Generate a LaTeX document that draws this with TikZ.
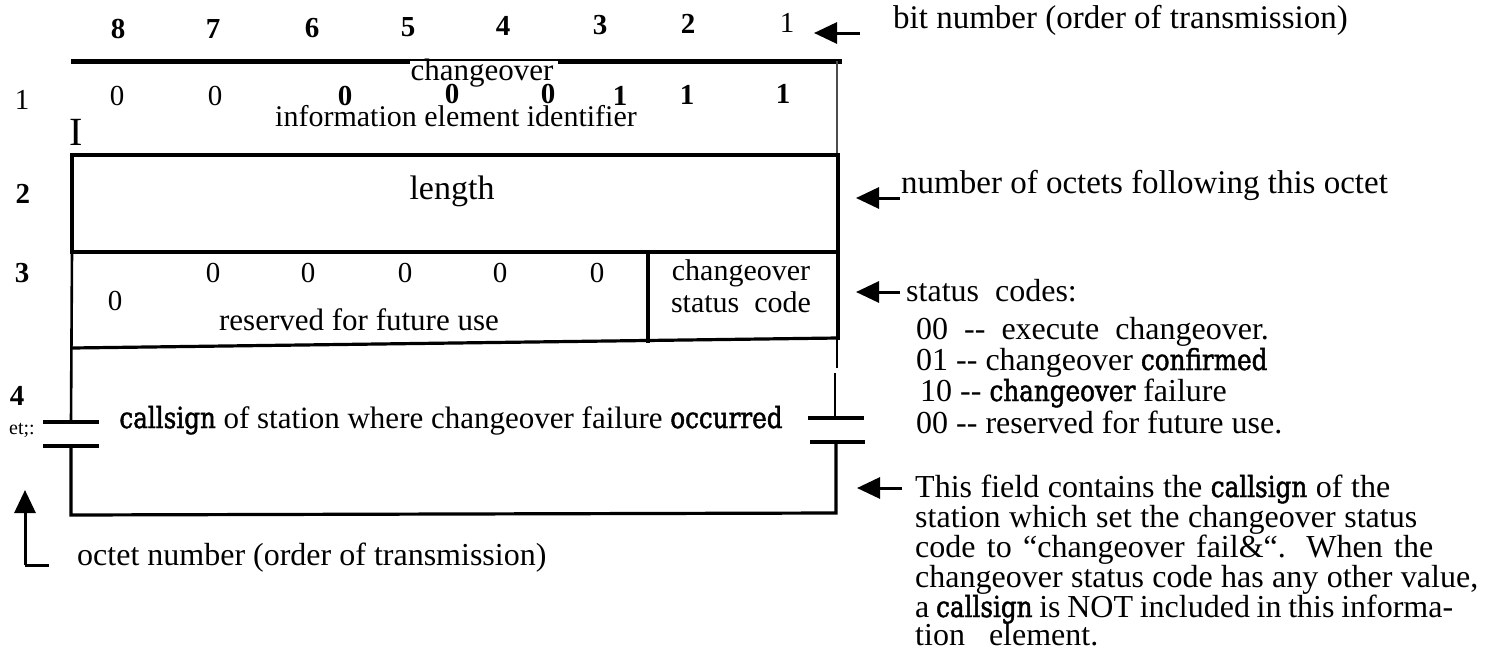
\documentclass[tikz,border=0pt]{standalone}
\usepackage{fontspec}
\setmainfont{Liberation Serif}
\newfontfamily\heavy[FakeStretch=0.85,FakeBold=1.6]{DejaVu Serif}
\usetikzlibrary{arrows.meta}
\newcommand\hv[1]{{\heavy\fontsize{29}{34}\selectfont #1}}
\newcommand\dd{-{}-}
\tikzset{
  frame/.style={line width=3.2pt, line cap=rect},
  faint/.style={line width=1.3pt, black!70},
  ann/.style={font=\fontsize{32}{36}\selectfont, inner sep=0pt, anchor=base west},
  bigann/.style={font=\fontsize{33}{36}\selectfont, inner sep=0pt, anchor=base west},
  boxtxt/.style={font=\fontsize{31}{36}\selectfont, inner sep=0pt, anchor=base},
  digit/.style={font=\fontsize{29}{34}\selectfont, inner sep=0pt},
  bdigit/.style={font=\fontsize{29}{34}\selectfont\bfseries, inner sep=0pt},
  bitnum/.style={font=\fontsize{29}{32}\selectfont\bfseries, inner sep=0pt},
  pointer/.style={line width=3pt, -{Triangle[length=23pt,width=21pt]}},
}
\begin{document}
\begin{tikzpicture}[x=1pt,y=-1pt]
\useasboundingbox (0,0) rectangle (1499,659);

% bit numbers
\foreach \n/\x/\y in {8/118/29,7/213/29,6/312/28,5/408/27,4/503/26,3/600/25,2/688/24}
  \node[bitnum] (b\n) at (\x,\y) {\n};
\node[digit] (b1) at (787,23) {1};
\coordinate (ta1) at (860,33);
\coordinate (tt1) at (814,33);
\draw[pointer] (ta1) -- (tt1);
\node[bigann] (bitlab) at (893,28) {bit number (order of transmission)};

% frame lines
\draw[line width=5pt] (71,61) -- (410,61);
\draw[line width=2.5pt] (410,60) -- (558,60);
\draw[line width=5pt] (558,61) -- (842,61);
\draw[faint] (837,61) -- (837,155);
\draw[frame] (72,155) -- (838,155);
\draw[frame] (72,155) -- (72,252);
\draw[frame] (838,155) -- (838,338);
\draw[frame] (72,252) -- (838,252);
\draw[frame] (72,348) -- (838,338);
\draw[frame] (648,252) -- (648,341);
\draw[line width=2.6pt] (72,252) -- (71,422);
\draw[frame] (45,422) -- (97,422);
\draw[frame] (45,446) -- (97,446);
\draw[frame] (71,446) -- (71,515) -- (836,513) -- (836,442);
\draw[frame] (812,442) -- (863,442);
\draw[frame] (810,418) -- (862,418);
\draw[line width=2.6pt] (835,418) -- (835,373);
\draw[line width=2pt] (837,368) -- (837,338);

% row 1
\node[boxtxt] (chg1) at (482,80) {changeover};
\node[digit] (r1b8) at (117,96) {0};
\node[digit] (r1b7) at (215,96) {0};
\node[bdigit] (r1b6) at (345,96) {0};
\node[bdigit] (r1b5) at (452,94) {0};
\node[bdigit] (r1b4) at (548,94) {0};
\node[bdigit] (r1b3) at (620,96) {1};
\node[bdigit] (r1b2) at (687,95) {1};
\node[bdigit] (r1b1) at (783,94) {1};
\node[boxtxt,font=\fontsize{30}{34}\selectfont] (iei) at (456,126) {information\ element\ identifier};
\node[font=\fontsize{40}{44}\selectfont, inner sep=0pt] (imark) at (76,132) {I};

% row 2
\node[boxtxt,font=\fontsize{34}{38}\selectfont] (len) at (452,199) {length};
\coordinate (ta2) at (900,198);
\coordinate (tt2) at (856,198);
\draw[pointer] (ta2) -- (tt2);
\node[bigann] (lenlab) at (901,193) {number of octets following this octet};

% row 3
\node[digit] (r3b8) at (115,301) {0};
\foreach \i/\x in {7/213,6/308,5/405,4/500,3/597}
  \node[digit] (r3b\i) at (\x,273) {0};
\node[boxtxt] (rfu) at (359,330) {reserved for future use};
\node[boxtxt,font=\fontsize{30}{34}\selectfont] (csc1) at (741,280) {changeover};
\node[boxtxt,font=\fontsize{30}{34}\selectfont] (csc2) at (741,312) {status\ \ code};
\coordinate (ta3) at (900,292);
\coordinate (tt3) at (856,292);
\draw[pointer] (ta3) -- (tt3);
\node[ann] (sc) at (906,301) {status\ \ codes:};
\node[ann] (sc1) at (916,339) {00\ \ \dd\ \ execute\ \ changeover.};
\node[ann] (sc2) at (916,370) {01 \dd{} changeover \hv{confirmed}};
\node[ann] (sc3) at (920,401) {10 \dd{} \hv{changeover} failure};
\node[ann] (sc4) at (916,433) {00 \dd{} reserved for future use.};

% row 4
\node[boxtxt] (cs) at (451,428) {\hv{callsign} of station where changeover failure \hv{occurred}};
\coordinate (ta4) at (902,488);
\coordinate (tt4) at (857,488);
\draw[pointer] (ta4) -- (tt4);
\node[ann] (p1) at (915,497) {\makebox[475pt][s]{This field contains the \hv{callsign} of the}};
\node[ann] (p2) at (915,527) {\makebox[502pt][s]{station which set the changeover status}};
\node[ann] (p3) at (915,557) {\makebox[518pt][s]{code to ``changeover fail\&``. When the}};
\node[ann] (p4) at (915,587) {\makebox[563pt][s]{changeover status code has any other value,}};
\node[ann] (p5) at (915,617) {\makebox[538pt][s]{a \hv{callsign} is NOT included in this informa-}};
\node[ann] (p6) at (915,645) {tion\ \ \ element.};

% octet labels
\node[digit] (o1) at (22,100) {1};
\node[bdigit] (o2) at (23,194) {2};
\node[bdigit] (o3) at (22,273) {3};
\node[bdigit] (o4) at (17,396) {4};
\node[font=\fontsize{20}{24}\selectfont, inner sep=0pt] (oet) at (22,430) {et;:};

% octet number pointer
\coordinate (oc) at (25,565);
\coordinate (otip) at (25,490);
\coordinate (oend) at (49,565);
\draw[pointer] (oc) -- (otip);
\draw[line width=3pt] (oc) -- (oend);
\node[ann] (olab) at (77,565) {octet number (order of transmission)};
\end{tikzpicture}
\end{document}
